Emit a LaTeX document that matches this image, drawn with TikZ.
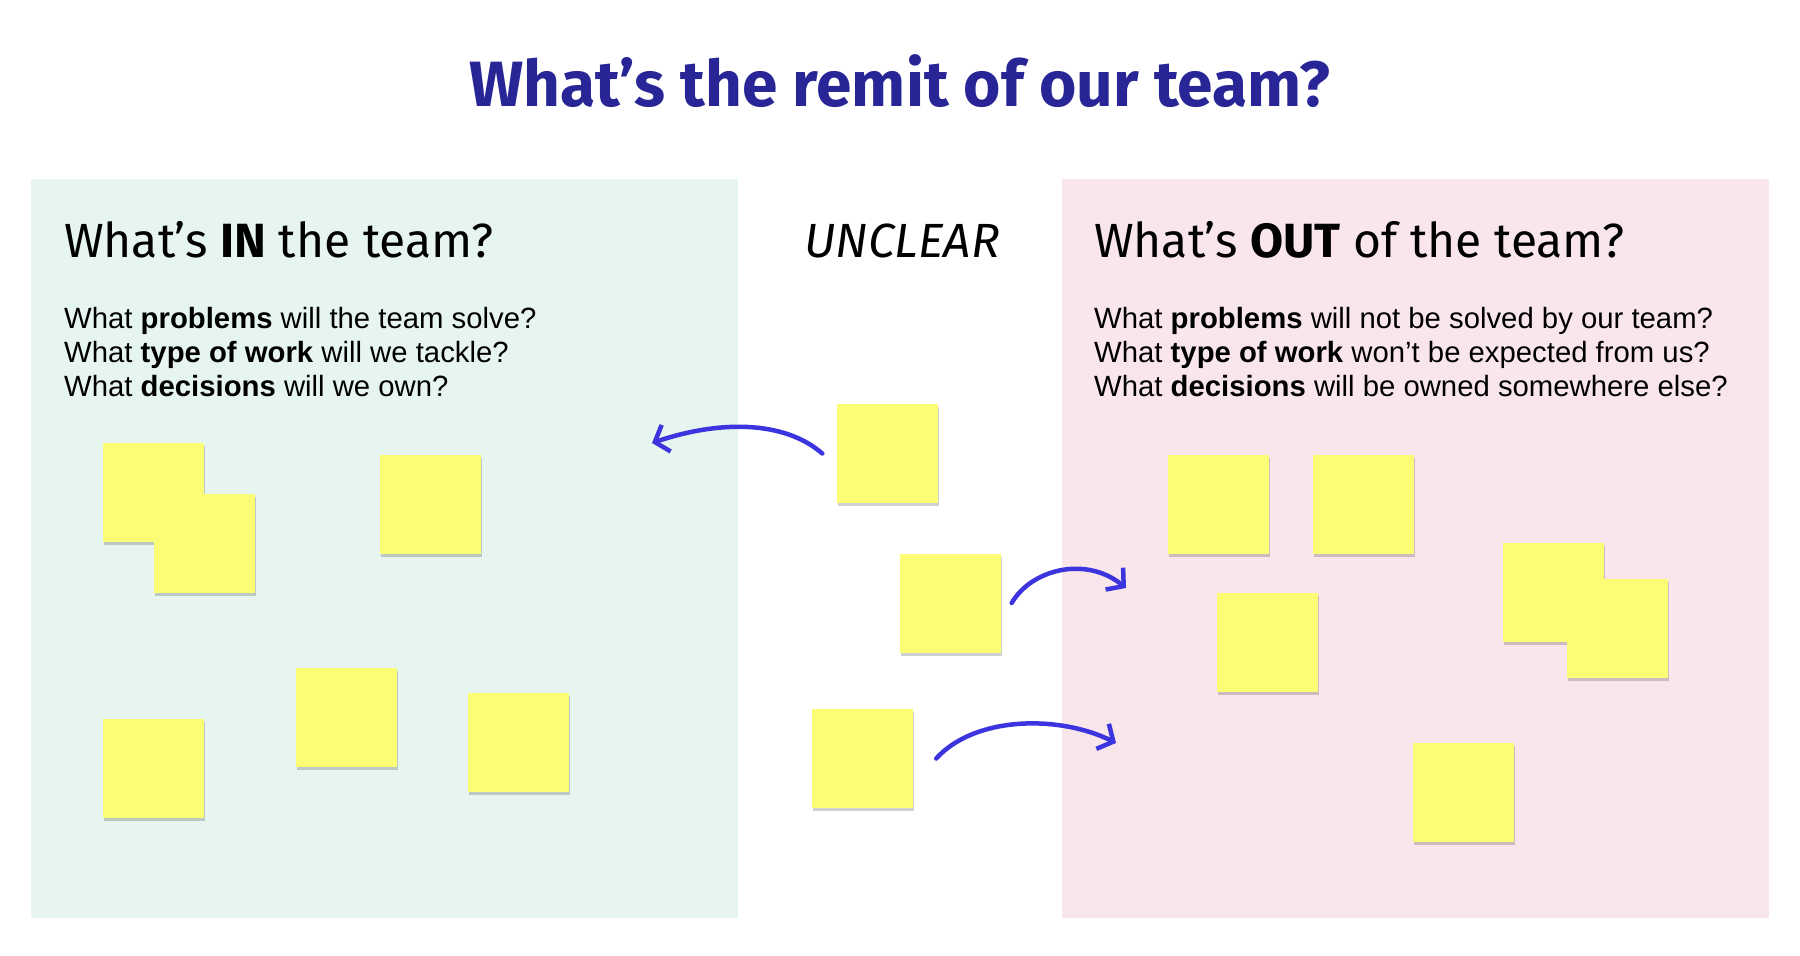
\documentclass[tikz,border=0pt]{standalone}
\usepackage{fontspec}
\setmainfont{Fira Sans}
\newfontfamily\bodyfont{Liberation Sans}
\usetikzlibrary{arrows.meta,shadows,positioning}
\definecolor{titleblue}{RGB}{40,38,150}
\definecolor{arrowblue}{RGB}{60,52,222}
\definecolor{inpanel}{RGB}{230,245,239}
\definecolor{outpanel}{RGB}{249,230,234}
\definecolor{stickyyellow}{RGB}{251,253,116}
\tikzset{
    sticky/.style={rectangle, fill=stickyyellow, minimum width=101pt, minimum height=99pt, inner sep=0pt,
        drop shadow={shadow xshift=1pt, shadow yshift=-3pt, opacity=0.18, fill=black}},
    heading/.style={anchor=base west, inner sep=0pt, font=\fontsize{48}{58}\selectfont},
    question/.style={anchor=base west, inner sep=0pt, font=\bodyfont\fontsize{29.3}{35}\selectfont},
    movearrow/.style={arrowblue, line width=4.5pt, line cap=round,
        -{Straight Barb[length=12pt,width=28pt,line width=4.5pt]}},
}

\begin{document}
\begin{tikzpicture}[x=1pt, y=-1pt]
    \useasboundingbox (0,0) rectangle (1800,956);

    % Title
    \node[anchor=base, inner sep=0pt, text=titleblue, font=\fontsize{64}{70}\selectfont\bfseries] (title) at (900,106) {What’s the remit of our team?};

    % Panels
    \fill[inpanel] (31,179) rectangle (738,918);
    \fill[outpanel] (1062,179) rectangle (1769,918);

    % IN
    \node[heading] (inhead) at (64,257) {What’s \textbf{IN} the team?};
    \node[question] (inq1) at (64,328) {What \textbf{problems} will the team solve?};
    \node[question] (inq2) at (64,362) {What \textbf{type of work} will we tackle?};
    \node[question] (inq3) at (64,396) {What \textbf{decisions} will we own?};

    % Unclear
    \node[heading, font=\fontsize{48}{58}\selectfont\itshape] (unclear) at (804,257) {UNCLEAR};

    % OUT
    \node[heading] (outhead) at (1094,257) {What’s \textbf{OUT} of the team?};
    \node[question] (outq1) at (1094,328) {What \textbf{problems} will not be solved by our team?};
    \node[question] (outq2) at (1094,362) {What \textbf{type of work} won’t be expected from us?};
    \node[question] (outq3) at (1094,396) {What \textbf{decisions} will be owned somewhere else?};

    % Sticky notes, IN
    \node[sticky] (s1) at (153.5,492.5) {};
    \node[sticky] (s2) at (204,543) {};
    \node[sticky] (s3) at (430.5,504) {};
    \node[sticky] (s4) at (153.5,768) {};
    \node[sticky] (s5) at (346.5,717.5) {};
    \node[sticky] (s6) at (518.5,742.5) {};

    % Sticky notes, unclear
    \node[sticky] (s7) at (887,453.5) {};
    \node[sticky] (s8) at (950,603) {};
    \node[sticky] (s9) at (862.5,758.5) {};

    % Sticky notes, OUT
    \node[sticky] (s10) at (1218.5,504) {};
    \node[sticky] (s11) at (1363.5,504) {};
    \node[sticky] (s12) at (1267.5,642) {};
    \node[sticky] (s13) at (1553.5,592) {};
    \node[sticky] (s14) at (1617.5,628) {};
    \node[sticky] (s15) at (1463.5,792) {};

    % Arrows
    \coordinate (toin) at (652,443);
    \coordinate (toout1) at (1126,588);
    \coordinate (toout2) at (1116,743);
    \draw[movearrow] ([xshift=-14pt]s7.west) .. controls +(-38,-33) and +(68,-23) .. (toin);
    \draw[movearrow] ([xshift=11pt]s8.east) .. controls +(19,-33) and +(-41,-33) .. (toout1);
    \draw[movearrow] ([xshift=23pt]s9.east) .. controls +(39,-43) and +(-56,-28) .. (toout2);
\end{tikzpicture}
\end{document}
